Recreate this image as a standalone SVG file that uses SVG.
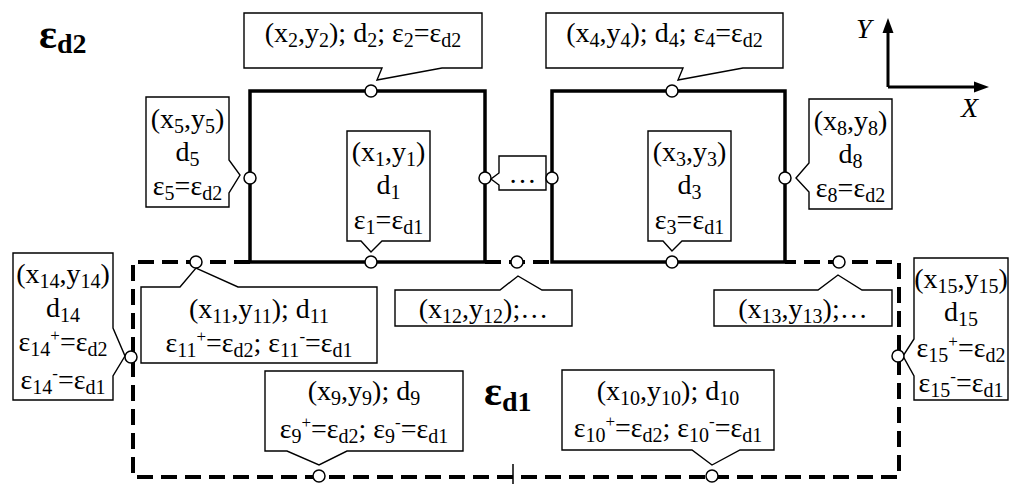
<svg xmlns="http://www.w3.org/2000/svg" width="1010" height="484" viewBox="0 0 1010 484">
<style>
.t{font-family:"Liberation Serif","Times New Roman",serif;font-size:28px;text-anchor:middle;fill:#000}
.s{font-size:20px}
.p{font-size:17px}
.big{font-family:"Liberation Serif","Times New Roman",serif;font-weight:bold;font-size:42px;fill:#000}
.bs{font-size:28px}
.ax{font-family:"Liberation Serif","Times New Roman",serif;font-style:italic;font-size:28px;fill:#000}
.box{fill:#fff;stroke:#000;stroke-width:1.4;stroke-linejoin:miter}
.solid{fill:none;stroke:#000;stroke-width:3.5}
.dash{fill:none;stroke:#000;stroke-width:4;stroke-dasharray:16 8}
.pt{fill:#fff;stroke:#000;stroke-width:1.5}
</style>
<rect width="1010" height="484" fill="#fff"/>
<g id="connectors">
<path class="dash" d="M250 262 H133 V477 H899 V262 H785"/>
<path class="dash" d="M485 262 H552"/>
<rect class="solid" x="250" y="91" width="235" height="171"/>
<rect class="solid" x="552" y="91" width="233" height="171"/>
<line x1="513" y1="464" x2="513" y2="484" stroke="#000" stroke-width="1.5"/>
<g id="axes">
<path d="M888 87 V30 M888 87 H976" fill="none" stroke="#000" stroke-width="3"/>
<polygon points="888,18 882.5,33 893.5,33" fill="#000"/>
<polygon points="989,87 974,81.5 974,92.5" fill="#000"/>
<text class="ax" x="856" y="38">Y</text>
<text class="ax" x="961" y="117">X</text>
</g>
</g>
<g id="labels">
<text class="big" x="39" y="48">ε<tspan class="bs" dy="5">d2</tspan></text>
<text class="big" x="484" y="405">ε<tspan class="bs" dy="6">d1</tspan></text>
</g>
<g id="n2">
<path class="box" d="M244 13 H482 V68 H442 L377 80 L382 68 H244 Z"/>
<text class="t" x="363" y="42">(x<tspan class="s" dy="5">2</tspan><tspan dy="-5">,y</tspan><tspan class="s" dy="5">2</tspan><tspan dy="-5">); d</tspan><tspan class="s" dy="5">2</tspan><tspan dy="-5">; ε</tspan><tspan class="s" dy="5">2</tspan><tspan dy="-5">=ε</tspan><tspan class="s" dy="5">d2</tspan></text>
</g>
<g id="n4">
<path class="box" d="M546 13 H783 V68 H743 L678 80 L683 68 H546 Z"/>
<text class="t" x="664.5" y="42">(x<tspan class="s" dy="5">4</tspan><tspan dy="-5">,y</tspan><tspan class="s" dy="5">4</tspan><tspan dy="-5">); d</tspan><tspan class="s" dy="5">4</tspan><tspan dy="-5">; ε</tspan><tspan class="s" dy="5">4</tspan><tspan dy="-5">=ε</tspan><tspan class="s" dy="5">d2</tspan></text>
</g>
<g id="n5">
<path class="box" d="M146 97 H229 V160 L240 175 L229 193 V207 H146 Z"/>
<text class="t" x="187.5" y="128">(x<tspan class="s" dy="5">5</tspan><tspan dy="-5">,y</tspan><tspan class="s" dy="5">5</tspan><tspan dy="-5">)</tspan></text>
<text class="t" x="187.5" y="161">d<tspan class="s" dy="5">5</tspan></text>
<text class="t" x="187.5" y="195">ε<tspan class="s" dy="5">5</tspan><tspan dy="-5">=ε</tspan><tspan class="s" dy="5">d2</tspan></text>
</g>
<g id="n1">
<path class="box" d="M347 131 H430 V241 H382 L371 252 L361 241 H347 Z"/>
<text class="t" x="388.5" y="161">(x<tspan class="s" dy="5">1</tspan><tspan dy="-5">,y</tspan><tspan class="s" dy="5">1</tspan><tspan dy="-5">)</tspan></text>
<text class="t" x="388.5" y="194">d<tspan class="s" dy="5">1</tspan></text>
<text class="t" x="388.5" y="229">ε<tspan class="s" dy="5">1</tspan><tspan dy="-5">=ε</tspan><tspan class="s" dy="5">d1</tspan></text>
</g>
<g id="n3">
<path class="box" d="M648 131 H731 V241 H682 L672 251 L663 241 H648 Z"/>
<text class="t" x="689.5" y="161">(x<tspan class="s" dy="5">3</tspan><tspan dy="-5">,y</tspan><tspan class="s" dy="5">3</tspan><tspan dy="-5">)</tspan></text>
<text class="t" x="689.5" y="194">d<tspan class="s" dy="5">3</tspan></text>
<text class="t" x="689.5" y="229">ε<tspan class="s" dy="5">3</tspan><tspan dy="-5">=ε</tspan><tspan class="s" dy="5">d1</tspan></text>
</g>
<g id="n8">
<path class="box" d="M809 99 H892 V209 H809 V192 L796 178 L809 163 Z"/>
<text class="t" x="850.5" y="130">(x<tspan class="s" dy="5">8</tspan><tspan dy="-5">,y</tspan><tspan class="s" dy="5">8</tspan><tspan dy="-5">)</tspan></text>
<text class="t" x="850.5" y="163">d<tspan class="s" dy="5">8</tspan></text>
<text class="t" x="850.5" y="197">ε<tspan class="s" dy="5">8</tspan><tspan dy="-5">=ε</tspan><tspan class="s" dy="5">d2</tspan></text>
</g>
<g id="n6">
<path class="box" d="M499 156 H546 V190 H499 V185 L491 179 L499 173 Z"/>
<text class="t" x="522.5" y="183">…</text>
</g>
<g id="n11">
<path class="box" d="M141 287 H180 L196 268 L238 287 H377 V363 H141 Z"/>
<text class="t" x="259" y="318">(x<tspan class="s" dy="5">11</tspan><tspan dy="-5">,y</tspan><tspan class="s" dy="5">11</tspan><tspan dy="-5">); d</tspan><tspan class="s" dy="5">11</tspan></text>
<text class="t" x="259" y="352">ε<tspan class="s" dy="5">11</tspan><tspan class="p" dy="-15">+</tspan><tspan dy="10">=ε</tspan><tspan class="s" dy="5">d2</tspan><tspan dy="-5">; ε</tspan><tspan class="s" dy="5">11</tspan><tspan class="p" dy="-15">-</tspan><tspan dy="10">=ε</tspan><tspan class="s" dy="5">d1</tspan></text>
</g>
<g id="n12">
<path class="box" d="M395 290 H500 L518 276 L542 290 H572 V326 H395 Z"/>
<text class="t" x="483.5" y="318">(x<tspan class="s" dy="5">12</tspan><tspan dy="-5">,y</tspan><tspan class="s" dy="5">12</tspan><tspan dy="-5">);…</tspan></text>
</g>
<g id="n13">
<path class="box" d="M714 290 H818 L838 275 L862 290 H892 V326 H714 Z"/>
<text class="t" x="803" y="318">(x<tspan class="s" dy="5">13</tspan><tspan dy="-5">,y</tspan><tspan class="s" dy="5">13</tspan><tspan dy="-5">);…</tspan></text>
</g>
<g id="n14">
<path class="box" d="M13 253 H113 V328 L125 356 L113 376 V400 H13 Z"/>
<text class="t" x="63" y="283">(x<tspan class="s" dy="5">14</tspan><tspan dy="-5">,y</tspan><tspan class="s" dy="5">14</tspan><tspan dy="-5">)</tspan></text>
<text class="t" x="63" y="317">d<tspan class="s" dy="5">14</tspan></text>
<text class="t" x="63" y="351">ε<tspan class="s" dy="5">14</tspan><tspan class="p" dy="-15">+</tspan><tspan dy="10">=ε</tspan><tspan class="s" dy="5">d2</tspan></text>
<text class="t" x="63" y="389">ε<tspan class="s" dy="5">14</tspan><tspan class="p" dy="-15">-</tspan><tspan dy="10">=ε</tspan><tspan class="s" dy="5">d1</tspan></text>
</g>
<g id="n15">
<path class="box" d="M914 258 H1008 V400 H914 V376 L903 356 L914 339 Z"/>
<text class="t" x="961" y="288">(x<tspan class="s" dy="5">15</tspan><tspan dy="-5">,y</tspan><tspan class="s" dy="5">15</tspan><tspan dy="-5">)</tspan></text>
<text class="t" x="961" y="321">d<tspan class="s" dy="5">15</tspan></text>
<text class="t" x="961" y="357">ε<tspan class="s" dy="5">15</tspan><tspan class="p" dy="-15">+</tspan><tspan dy="10">=ε</tspan><tspan class="s" dy="5">d2</tspan></text>
<text class="t" x="961" y="392">ε<tspan class="s" dy="5">15</tspan><tspan class="p" dy="-15">-</tspan><tspan dy="10">=ε</tspan><tspan class="s" dy="5">d1</tspan></text>
</g>
<g id="n9">
<path class="box" d="M265 371 H463 V451 H347 L319 465 L287 451 H265 Z"/>
<text class="t" x="364" y="400">(x<tspan class="s" dy="5">9</tspan><tspan dy="-5">,y</tspan><tspan class="s" dy="5">9</tspan><tspan dy="-5">); d</tspan><tspan class="s" dy="5">9</tspan></text>
<text class="t" x="364" y="438">ε<tspan class="s" dy="5">9</tspan><tspan class="p" dy="-15">+</tspan><tspan dy="10">=ε</tspan><tspan class="s" dy="5">d2</tspan><tspan dy="-5">; ε</tspan><tspan class="s" dy="5">9</tspan><tspan class="p" dy="-15">-</tspan><tspan dy="10">=ε</tspan><tspan class="s" dy="5">d1</tspan></text>
</g>
<g id="n10">
<path class="box" d="M562 370 H774 V450 H740 L712 465 L692 450 H562 Z"/>
<text class="t" x="668" y="400">(x<tspan class="s" dy="5">10</tspan><tspan dy="-5">,y</tspan><tspan class="s" dy="5">10</tspan><tspan dy="-5">); d</tspan><tspan class="s" dy="5">10</tspan></text>
<text class="t" x="668" y="437">ε<tspan class="s" dy="5">10</tspan><tspan class="p" dy="-15">+</tspan><tspan dy="10">=ε</tspan><tspan class="s" dy="5">d2</tspan><tspan dy="-5">; ε</tspan><tspan class="s" dy="5">10</tspan><tspan class="p" dy="-15">-</tspan><tspan dy="10">=ε</tspan><tspan class="s" dy="5">d1</tspan></text>
</g>
<g id="points">
<circle class="pt" cx="371" cy="91" r="6"/>
<circle class="pt" cx="672" cy="91" r="6"/>
<circle class="pt" cx="250" cy="178" r="6"/>
<circle class="pt" cx="485" cy="178" r="6"/>
<circle class="pt" cx="552" cy="178" r="6"/>
<circle class="pt" cx="785" cy="178" r="6"/>
<circle class="pt" cx="371" cy="262" r="6"/>
<circle class="pt" cx="672" cy="262" r="6"/>
<circle class="pt" cx="196" cy="262" r="6"/>
<circle class="pt" cx="517" cy="262" r="6"/>
<circle class="pt" cx="839" cy="262" r="6"/>
<circle class="pt" cx="131" cy="357" r="6"/>
<circle class="pt" cx="898" cy="356" r="6"/>
<circle class="pt" cx="319" cy="476" r="6"/>
<circle class="pt" cx="712" cy="476" r="6"/>
</g>
</svg>
